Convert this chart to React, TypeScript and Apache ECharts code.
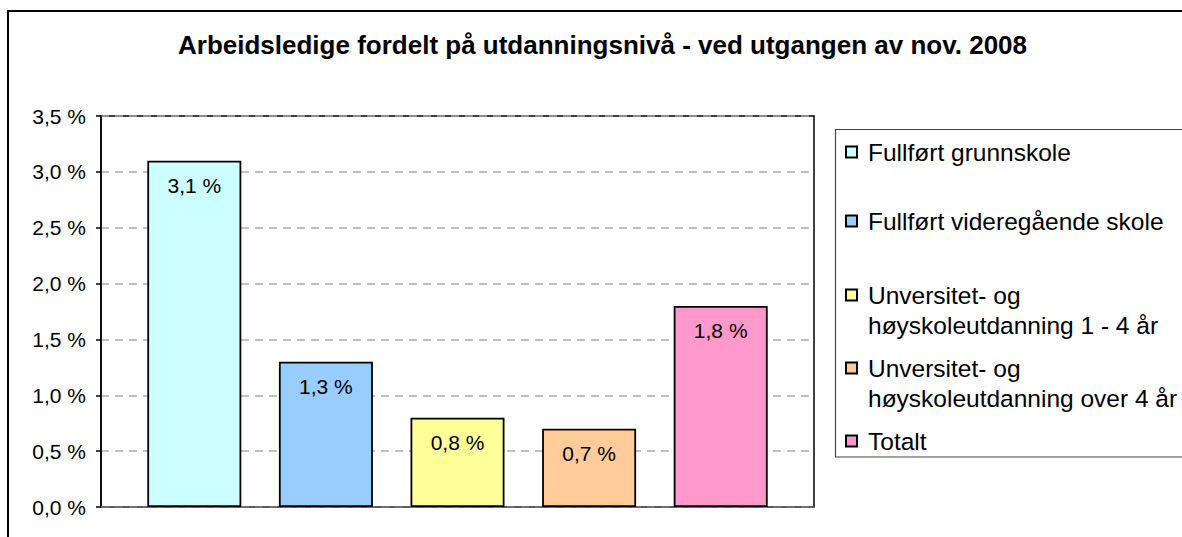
import React, { useEffect, useRef } from "react";
import * as echarts from "echarts";

const titleText = "Arbeidsledige fordelt på utdanningsnivå - ved utgangen av nov. 2008";
const categories = [""];
const seriesNames = [
  "Fullført grunnskole",
  "Fullført videregående skole",
  "Unversitet- og\nhøyskoleutdanning 1 - 4 år",
  "Unversitet- og\nhøyskoleutdanning over 4 år",
  "Totalt",
];
const seriesValues = [3.1, 1.3, 0.8, 0.7, 1.8];
const seriesColors = ["#CCFFFF", "#99CCFF", "#FFFF99", "#FFCC99", "#FF99CC"];
const yMin = 0;
const yMax = 3.5;
const yInterval = 0.5;

const FONT = "'Liberation Sans', Arial, Helvetica, sans-serif";
const fmtPct = (v: number) => v.toFixed(1).replace(".", ",") + " %";

// centre y of the first text line of each legend entry
const legendLineCenters = [152, 221, 295, 368, 441];
const LEG_LH = 30;

export default function App() {
  const ref = useRef<HTMLDivElement>(null);
  useEffect(() => {
    if (!ref.current) return;
    const chart = echarts.init(ref.current, undefined, { renderer: "svg" });

    const legends = seriesNames.map((name, i) => {
      const twoLine = name.includes("\n");
      const c = legendLineCenters[i];
      const top = twoLine ? c - LEG_LH * 1.5 : c - LEG_LH / 2;
      return {
        show: true,
        data: [name],
        left: 845,
        top,
        padding: 0,
        orient: "vertical",
        itemWidth: 11,
        itemHeight: 11,
        icon: "rect",
        selectedMode: false,
        formatter: (n: string) => (n.includes("\n") ? "\n" + n : n),
        textStyle: {
          fontFamily: FONT,
          fontSize: 24.5,
          color: "#000",
          lineHeight: LEG_LH,
          padding: [0, 0, 0, 6],
        },
      };
    });

    const series = seriesNames.map((name, i) => ({
      type: "bar",
      name,
      data: [seriesValues[i]],
      barWidth: 94,
      barGap: "40%",
      itemStyle: {
        color: seriesColors[i],
        borderColor: "#000",
        borderWidth: 1.8,
      },
      label: {
        show: true,
        position: "insideTop",
        distance: 14,
        formatter: (p: any) => fmtPct(p.value),
        fontFamily: FONT,
        fontSize: 21,
        color: "#000",
      },
    }));

    chart.setOption({
      animation: false,
      backgroundColor: "#fff",
      title: {
        text: titleText,
        left: "center",
        top: 27,
        textStyle: {
          fontFamily: FONT,
          fontSize: 26,
          fontWeight: "bold",
          color: "#000",
        },
      },
      legend: legends,
      grid: {
        left: 101,
        top: 116,
        width: 713,
        height: 391,
        show: true,
        borderColor: "#000",
        borderWidth: 1.5,
        backgroundColor: "#fff",
      },
      xAxis: {
        type: "category",
        data: categories,
        axisLine: { show: true, lineStyle: { color: "#666", width: 1.5 } },
        axisTick: { show: false },
        axisLabel: { show: false },
      },
      yAxis: {
        type: "value",
        min: yMin,
        max: yMax,
        interval: yInterval,
        axisLine: { show: true, lineStyle: { color: "#000", width: 1.5 } },
        axisTick: { show: true, inside: false, length: 5, lineStyle: { color: "#000", width: 1.5 } },
        axisLabel: {
          margin: 15,
          formatter: (v: number) => fmtPct(v),
          fontFamily: FONT,
          fontSize: 21,
          color: "#000",
        },
        splitLine: {
          show: true,
          lineStyle: { color: "#aaa", type: [8, 6], width: 1.5 },
        },
      },
      graphic: [
        {
          type: "rect",
          shape: { x: 8, y: 11, width: 1400, height: 800 },
          style: { fill: "none", stroke: "#000", lineWidth: 2 },
          silent: true,
          z: -1,
        },
        {
          type: "rect",
          shape: { x: 835.5, y: 129.5, width: 600, height: 327.5 },
          style: { fill: "#fff", stroke: "#444", lineWidth: 1.2 },
          silent: true,
          z: -1,
        },
      ],
      series,
    });
    return () => chart.dispose();
  }, []);

  return (
    <div style={{ position: "fixed", left: 0, top: 0, width: 1182, height: 537, overflow: "hidden", background: "#fff" }}>
      <div ref={ref} style={{ width: 1205, height: 537 }} />
    </div>
  );
}
